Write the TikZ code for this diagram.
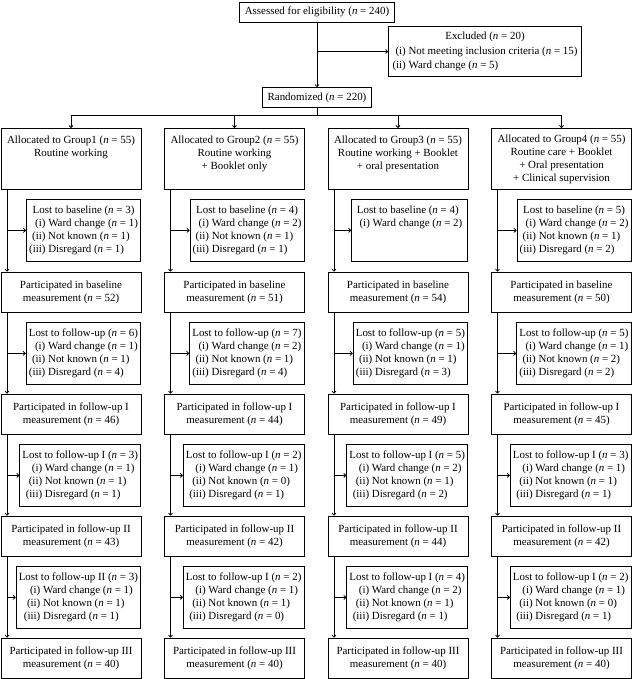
\documentclass[tikz,border=0pt]{standalone}
\usepackage{fontspec}
\setmainfont{Liberation Serif}
\usepackage{tikz}
\usetikzlibrary{arrows.meta}
\newcommand{\nn}[1]{(\textit{n} = #1)}
\newcommand{\lostlist}[4]{\begin{tabular}{@{}c@{}}#1\\
  \begin{tabular}{@{}r@{\ }l@{}}(i) & Ward change \nn{#2}\\ (ii) & Not known \nn{#3}\\ (iii) & Disregard \nn{#4}\end{tabular}\end{tabular}}
\newcommand{\partext}[2]{Participated in #1\\ measurement \nn{#2}}
\tikzset{
  flowbox/.style={ draw, rectangle, inner sep=2pt, line width=0.6pt }
}
\tikzset{
  grpbox/.style={ flowbox, align=center, minimum width=105pt, minimum height=45.75pt, anchor=north }
}
\tikzset{
  partbox/.style={ flowbox, align=center, minimum width=105pt, minimum height=30pt }
}
\tikzset{
  lostbox/.style={ flowbox, minimum height=46.5pt, anchor=north east }
}
\begin{document}
\begin{tikzpicture}[x=0.75pt, y=-0.75pt, font=\fontsize{8.2}{9.75}\selectfont, >={To[length=2.2pt,width=3.5pt]}, line width=0.6pt]
      \useasboundingbox (0,0) rectangle (633,679);
      % top part
      \node[flowbox, minimum height=15pt, inner xsep=4pt] (assess) at (317,12) {Assessed for eligibility \nn{240}};
      \node[flowbox, inner xsep=3pt, inner ysep=3pt] (excl) at (485,51.5) {\begin{tabular}{@{}r@{\ }l@{}}\multicolumn{2}{c}{Excluded \nn{20}}\\[1pt] (i) & Not meeting inclusion criteria \nn{15}\\[1pt] (ii) & Ward change \nn{5}\end{tabular}};
      \node[flowbox, minimum height=15pt, inner xsep=4pt] (rand) at (317,97.5) {Randomized \nn{220}};
      \coordinate (br) at (317,115);
      \draw[->] (assess) -- (rand);
      \draw[->] (excl.west -| assess.south) -- (excl.west);
      \draw (rand) -- (br);
      % groups
      \node[grpbox] (g1) at (71,128) {Allocated to Group1 \nn{55}\\ Routine working\\ \mbox{}\\ \mbox{}};
      \node[grpbox] (g2) at (234.5,128) {Allocated to Group2 \nn{55}\\ Routine working\\ + Booklet only\\ \mbox{}};
      \node[grpbox] (g3) at (398,128) {Allocated to Group3 \nn{55}\\ Routine working + Booklet\\ + oral presentation\\ \mbox{}};
      \node[grpbox] (g4) at (561.5,128) {Allocated to Group4 \nn{55}\\ Routine care + Booklet\\ + Oral presentation\\ + Clinical supervision};
      \draw[->] (br) -| (g1);
      \draw[->] (br) -| (g2);
      \draw[->] (br) -| (g3);
      \draw[->] (br) -| (g4);
      % group 1
      \coordinate (s1) at (7,0);
      \node[lostbox] (l11) at (141,199) {\lostlist{Lost to baseline \nn{3}}{1}{1}{1}};
      \node[partbox] (p11) at (71,292) {\partext{baseline}{52}};
      \node[lostbox] (l12) at (141,322) {\lostlist{Lost to follow-up \nn{6}}{1}{1}{4}};
      \node[partbox] (p12) at (71,414) {\partext{follow-up I}{46}};
      \node[lostbox] (l13) at (141,444) {\lostlist{Lost to follow-up I \nn{3}}{1}{1}{1}};
      \node[partbox] (p13) at (71,536) {\partext{follow-up II}{43}};
      \node[lostbox] (l14) at (141,566) {\lostlist{Lost to follow-up II \nn{3}}{1}{1}{1}};
      \node[partbox] (p14) at (71,658) {\partext{follow-up III}{40}};
      % group 2
      \coordinate (s2) at (170.5,0);
      \node[lostbox] (l21) at (304.5,199) {\lostlist{Lost to baseline \nn{4}}{2}{1}{1}};
      \node[partbox] (p21) at (234.5,292) {\partext{baseline}{51}};
      \node[lostbox] (l22) at (304.5,322) {\lostlist{Lost to follow-up \nn{7}}{2}{1}{4}};
      \node[partbox] (p22) at (234.5,414) {\partext{follow-up I}{44}};
      \node[lostbox] (l23) at (304.5,444) {\lostlist{Lost to follow-up I \nn{2}}{1}{0}{1}};
      \node[partbox] (p23) at (234.5,536) {\partext{follow-up II}{42}};
      \node[lostbox] (l24) at (304.5,566) {\lostlist{Lost to follow-up I \nn{2}}{1}{1}{0}};
      \node[partbox] (p24) at (234.5,658) {\partext{follow-up III}{40}};
      % group 3
      \coordinate (s3) at (334,0);
      \node[lostbox, minimum width=87pt] (l31) at (468,199) {\begin{tabular}{@{}l@{}}Lost to baseline \nn{4}\\ \ (i) Ward change \nn{2}\\ \mbox{}\\ \mbox{}\end{tabular}};
      \node[partbox] (p31) at (398,292) {\partext{baseline}{54}};
      \node[lostbox] (l32) at (468,322) {\lostlist{Lost to follow-up \nn{5}}{1}{1}{3}};
      \node[partbox] (p32) at (398,414) {\partext{follow-up I}{49}};
      \node[lostbox] (l33) at (468,444) {\lostlist{Lost to follow-up I \nn{5}}{2}{1}{2}};
      \node[partbox] (p33) at (398,536) {\partext{follow-up II}{44}};
      \node[lostbox] (l34) at (468,566) {\lostlist{Lost to follow-up I \nn{4}}{2}{1}{1}};
      \node[partbox] (p34) at (398,658) {\partext{follow-up III}{40}};
      % group 4
      \coordinate (s4) at (497.5,0);
      \node[lostbox] (l41) at (631.5,199) {\lostlist{Lost to baseline \nn{5}}{2}{1}{2}};
      \node[partbox] (p41) at (561.5,292) {\partext{baseline}{50}};
      \node[lostbox] (l42) at (631.5,322) {\lostlist{Lost to follow-up \nn{5}}{1}{2}{2}};
      \node[partbox] (p42) at (561.5,414) {\partext{follow-up I}{45}};
      \node[lostbox] (l43) at (631.5,444) {\lostlist{Lost to follow-up I \nn{3}}{1}{1}{1}};
      \node[partbox] (p43) at (561.5,536) {\partext{follow-up II}{42}};
      \node[lostbox] (l44) at (631.5,566) {\lostlist{Lost to follow-up I \nn{2}}{1}{0}{1}};
      \node[partbox] (p44) at (561.5,658) {\partext{follow-up III}{40}};
      % spines and side arrows
      \foreach \g in {1,2,3,4} {
        \draw[->] (g\g.south -| s\g) -- (p\g1.north -| s\g);
        \draw[->] (p\g1.south -| s\g) -- (p\g2.north -| s\g);
        \draw[->] (p\g2.south -| s\g) -- (p\g3.north -| s\g);
        \draw[->] (p\g3.south -| s\g) -- (p\g4.north -| s\g);
        \foreach \k in {1,2,3,4}
          \draw[->] (l\g\k.west -| s\g) -- (l\g\k.west);
      }
    \end{tikzpicture}
\end{document}
